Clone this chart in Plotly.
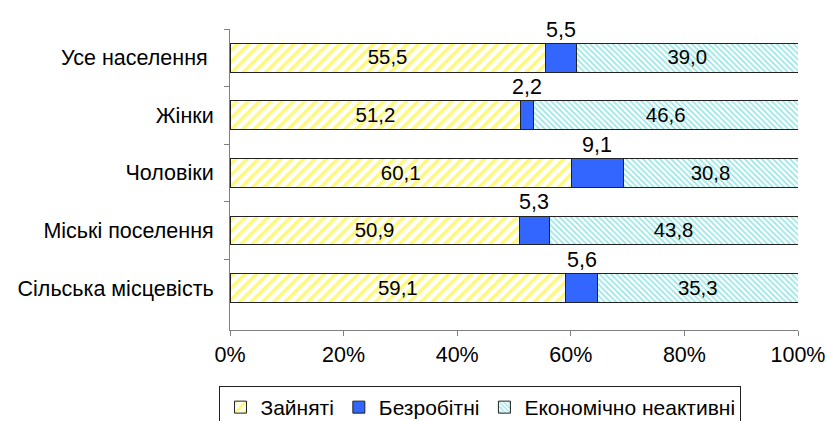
import plotly.graph_objects as go

categories = ["Усе населення ", "Жінки", "Чоловіки", "Міські поселення", "Сільська місцевість"]
employed = [55.5, 51.2, 60.1, 50.9, 59.1]
unemployed = [5.5, 2.2, 9.1, 5.3, 5.6]
inactive = [39.0, 46.6, 30.8, 43.8, 35.3]
series_names = ["Зайняті", "Безробітні", "Економічно неактивні"]
x_ticks = [0, 20, 40, 60, 80, 100]

def fmt(v):
    return f"{v:.1f}".replace(".", ",")

FONT = "Liberation Sans, Arial, sans-serif"
FS = 21.5
line = dict(color="#222222", width=1)

fig = go.Figure()
fig.add_trace(go.Bar(
    y=categories, x=employed, orientation="h", name=series_names[0],
    marker=dict(color="white", line=line,
                pattern=dict(shape="/", fgcolor="#FFF200", bgcolor="white", size=8, solidity=0.45)),
    text=[fmt(v) for v in employed], textposition="inside", insidetextanchor="middle",
    textfont=dict(color="black", size=FS, family=FONT), width=0.5,
))
fig.add_trace(go.Bar(
    y=categories, x=unemployed, orientation="h", name=series_names[1],
    marker=dict(color="#3366FF", line=line), width=0.5,
))
fig.add_trace(go.Bar(
    y=categories, x=inactive, orientation="h", name=series_names[2],
    marker=dict(color="white", line=line,
                pattern=dict(shape="\\", fgcolor="#33CCCC", bgcolor="white", size=4, solidity=0.45)),
    text=[fmt(v) for v in inactive], textposition="inside", insidetextanchor="middle",
    textfont=dict(color="black", size=FS, family=FONT), width=0.5,
))

for c, e, u in zip(categories, employed, unemployed):
    fig.add_annotation(x=e + u / 2, y=c, text=fmt(u), showarrow=False,
                       yshift=28, font=dict(size=FS, color="black", family=FONT))

fig.update_layout(
    barmode="stack", width=827, height=421,
    margin=dict(l=230, r=29, t=29, b=91, autoexpand=False),
    paper_bgcolor="white", plot_bgcolor="white",
    font=dict(family=FONT, size=FS, color="black"),
    uniformtext=dict(mode="show", minsize=10),
    legend=dict(orientation="h", x=0.441, xanchor="center", y=-0.186, yanchor="top",
                bordercolor="#222222", borderwidth=1, font=dict(size=21, family=FONT),
                traceorder="normal", itemwidth=30, tracegroupgap=0),
    xaxis=dict(range=[0, 100], tickvals=x_ticks, ticktext=[f"{v}%" for v in x_ticks],
               showgrid=False, zeroline=False, showline=True, linecolor="#808080", linewidth=1,
               ticks="outside", ticklen=5, tickcolor="#808080", tickfont=dict(size=FS),
               automargin=False),
    yaxis=dict(autorange="reversed", showgrid=False, showline=True, linecolor="#808080",
               linewidth=1, ticks="outside", ticklen=5, tickcolor="#808080", tickson="boundaries",
               tickfont=dict(size=FS), automargin=False, ticklabelstandoff=11),
)

fig.write_html("out.html", config={"displayModeBar": False},
               post_script="document.body.style.margin='0';document.body.style.overflow='hidden';")
